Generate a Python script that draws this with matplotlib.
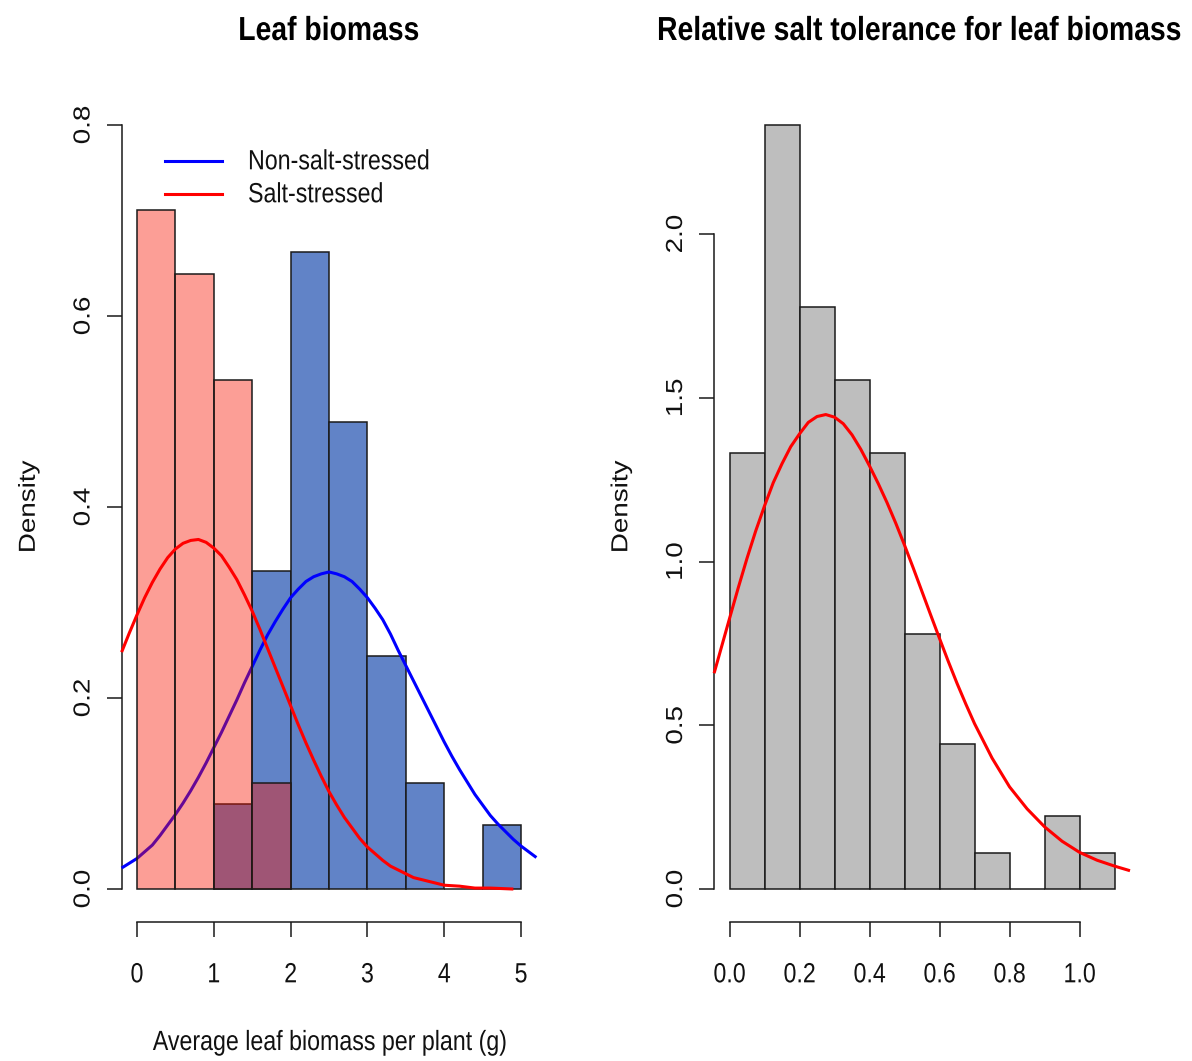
import matplotlib
matplotlib.use("Agg")
import matplotlib.pyplot as plt
from matplotlib.lines import Line2D
from matplotlib.patheffects import AbstractPathEffect
from matplotlib.transforms import Affine2D

# ---------------------------------------------------------------- data
# Leaf biomass, density-scaled histograms (bin width 0.5 g)
salt_bins = [0.0, 0.5, 1.0, 1.5, 2.0]
salt_density = [0.711, 0.644, 0.533, 0.111]

nonsalt_bins = [1.0, 1.5, 2.0, 2.5, 3.0, 3.5, 4.0, 4.5, 5.0]
nonsalt_density = [0.089, 0.333, 0.667, 0.489, 0.244, 0.111, 0.0, 0.067]

# Fitted density curves drawn over the leaf biomass histograms
salt_curve_x = [-0.2, -0.1, 0.0, 0.1, 0.2, 0.3, 0.4, 0.5, 0.6, 0.7, 0.8,
                0.9, 1.0, 1.1, 1.2, 1.3, 1.4, 1.5, 1.6, 1.7, 1.8, 1.9, 2.0,
                2.1, 2.2, 2.3, 2.4, 2.5, 2.6, 2.7, 2.8, 2.9, 3.0, 3.1, 3.2,
                3.3, 3.4, 3.5, 3.6, 3.8, 4.0, 4.2, 4.4, 4.6, 4.9]
salt_curve_y = [0.248, 0.268, 0.287, 0.305, 0.321, 0.335, 0.347, 0.356,
                0.362, 0.365, 0.366, 0.363, 0.357, 0.349, 0.337, 0.324,
                0.308, 0.291, 0.272, 0.252, 0.232, 0.212, 0.192, 0.172,
                0.153, 0.135, 0.118, 0.102, 0.088, 0.075, 0.064, 0.053,
                0.044, 0.037, 0.030, 0.024, 0.020, 0.016, 0.012, 0.008,
                0.004, 0.003, 0.001, 0.001, 0.000]

nonsalt_curve_x = [-0.2, -0.1, 0.0, 0.1, 0.2, 0.3, 0.4, 0.5, 0.6, 0.7, 0.8,
                   0.9, 1.0, 1.1, 1.2, 1.3, 1.4, 1.5, 1.6, 1.7, 1.8, 1.9,
                   2.0, 2.1, 2.2, 2.3, 2.4, 2.5, 2.6, 2.7, 2.8, 2.9, 3.0,
                   3.1, 3.2, 3.3, 3.4, 3.5, 3.6, 3.7, 3.8, 3.9, 4.0, 4.1,
                   4.2, 4.3, 4.4, 4.5, 4.6, 4.7, 4.8, 4.9, 5.0, 5.1, 5.2]
nonsalt_curve_y = [0.022, 0.027, 0.032, 0.039, 0.046, 0.056, 0.067, 0.078,
                   0.090, 0.103, 0.117, 0.132, 0.148, 0.164, 0.181, 0.198,
                   0.216, 0.233, 0.250, 0.266, 0.280, 0.293, 0.305, 0.314,
                   0.322, 0.327, 0.330, 0.332, 0.330, 0.327, 0.322, 0.314,
                   0.305, 0.294, 0.282, 0.267, 0.250, 0.234, 0.218, 0.202,
                   0.186, 0.170, 0.154, 0.139, 0.125, 0.112, 0.099, 0.088,
                   0.077, 0.068, 0.060, 0.052, 0.045, 0.039, 0.033]

# Relative salt tolerance, density-scaled histogram (bin width 0.1)
tol_bins = [0.0, 0.1, 0.2, 0.3, 0.4, 0.5, 0.6, 0.7, 0.8, 0.9, 1.0, 1.1]
tol_density = [1.333, 2.333, 1.778, 1.556, 1.333, 0.778, 0.444, 0.111,
               0.0, 0.222, 0.111]

tol_curve_x = [-0.044, 0.0, 0.025, 0.05, 0.075, 0.1, 0.125, 0.15, 0.175,
               0.2, 0.225, 0.25, 0.275, 0.3, 0.325, 0.35, 0.375, 0.4, 0.425,
               0.45, 0.475, 0.5, 0.525, 0.55, 0.575, 0.6, 0.625, 0.65,
               0.675, 0.7, 0.75, 0.8, 0.85, 0.9, 0.95, 1.0, 1.05, 1.1, 1.144]
tol_curve_y = [0.659, 0.826, 0.920, 1.010, 1.094, 1.170, 1.241, 1.299,
               1.351, 1.390, 1.425, 1.443, 1.449, 1.441, 1.421, 1.387,
               1.343, 1.292, 1.238, 1.180, 1.117, 1.050, 0.980, 0.908,
               0.836, 0.765, 0.695, 0.628, 0.565, 0.505, 0.400, 0.312,
               0.245, 0.190, 0.146, 0.112, 0.088, 0.070, 0.056]

left_xticks = [0, 1, 2, 3, 4, 5]
left_yticks = [0.0, 0.2, 0.4, 0.6, 0.8]
right_xticks = [0.0, 0.2, 0.4, 0.6, 0.8, 1.0]
right_yticks = [0.0, 0.5, 1.0, 1.5, 2.0]

legend_labels = ["Non-salt-stressed", "Salt-stressed"]

# ---------------------------------------------------------------- style
FONT = "Liberation Sans"
NARROW = 0.835                  # width / height ratio of the lettering
NARROW_TITLE = 0.85
FS = 20                         # nominal text size (pt)
FS_H = FS * NARROW              # horizontal text: narrow size, tall glyphs
FS_TITLE = 24 * NARROW_TITLE

W, H = 1192, 1061
fig = plt.figure(figsize=(W / 100, H / 100), dpi=100)
fig.patch.set_facecolor("white")

BLUE_FILL = "#6183C7"
SALT_FILL = (0.98, 0.08, 0.0, 0.41)
GRAY_FILL = "#BEBEBE"
EDGE = "#1a1a1a"
INK = "#111111"


class GlyphHeight(AbstractPathEffect):
    """Scale glyph heights about the baseline, leaving advance widths alone."""

    def __init__(self, sy):
        super().__init__()
        self.sy = sy

    def draw_path(self, renderer, gc, tpath, affine, rgbFace=None):
        renderer.draw_path(gc, tpath, Affine2D().scale(1, self.sy) + affine,
                           rgbFace)


TALL = [GlyphHeight(1 / NARROW)]
TALL_TITLE = [GlyphHeight(1 / NARROW_TITLE)]
FLAT = [GlyphHeight(NARROW)]


def px_axes(x0, x1, y_top, y_bot):
    return fig.add_axes([x0 / W, 1 - y_bot / H, (x1 - x0) / W, (y_bot - y_top) / H])


def style_axes(ax, xticks, yticks, xbounds, ybounds, xfmt, yfmt):
    for side in ("top", "right"):
        ax.spines[side].set_visible(False)
    ax.spines["left"].set_bounds(*ybounds)
    ax.spines["bottom"].set_bounds(*xbounds)
    ax.spines["bottom"].set_position(("outward", 2))
    for side in ("left", "bottom"):
        ax.spines[side].set_linewidth(1.1)
        ax.spines[side].set_color(EDGE)
    ax.set_xticks(xticks)
    ax.set_yticks(yticks)
    xl = ax.set_xticklabels([xfmt.format(v) for v in xticks],
                            fontfamily=FONT, fontsize=FS_H)
    yl = ax.set_yticklabels([yfmt.format(v) for v in yticks],
                            fontfamily=FONT, fontsize=FS, rotation=90,
                            va="center")
    for t in xl:
        t.set_path_effects(TALL)
    for t in yl:
        t.set_path_effects(FLAT)
    ax.tick_params(axis="both", direction="out", length=10.8, width=1.1,
                   color=EDGE, labelcolor=INK)
    ax.tick_params(axis="x", pad=19.4)
    ax.tick_params(axis="y", pad=8)
    ax.set_facecolor("none")


def hist_bars(ax, edges, dens, **kw):
    lefts = edges[:-1]
    widths = [b - a for a, b in zip(edges[:-1], edges[1:])]
    ax.bar(lefts, dens, width=widths, align="edge", edgecolor=EDGE,
           linewidth=1.1, **kw)


# ---------------------------------------------------------------- left panel
ax1 = px_axes(121.6, 536.4, 94.4, 919.6)
ax1.set_xlim(-0.2, 5.2)
ax1.set_ylim(-0.032, 0.832)

hist_bars(ax1, nonsalt_bins, nonsalt_density, color=BLUE_FILL, zorder=2)
ax1.plot(nonsalt_curve_x, nonsalt_curve_y, color="blue", lw=2.2, zorder=3,
         clip_on=False, solid_capstyle="butt")
hist_bars(ax1, salt_bins, salt_density, color=SALT_FILL, zorder=4)
ax1.plot(salt_curve_x, salt_curve_y, color="red", lw=2.2, zorder=5,
         clip_on=False, solid_capstyle="butt")

style_axes(ax1, left_xticks, left_yticks, (0, 5), (0, 0.8), "{:d}", "{:.1f}")

handles = [Line2D([], [], color="blue", lw=2.2),
           Line2D([], [], color="red", lw=2.2)]
leg = ax1.legend(handles, legend_labels, loc="upper left",
                 bbox_to_anchor=((165 - 121.6) / 414.8, (919.6 - 151.3) / 825.2),
                 frameon=False, handlelength=2.46, handletextpad=1.12,
                 borderpad=0, borderaxespad=0, labelspacing=0.43,
                 prop={"family": FONT, "size": FS_H})
for t in leg.get_texts():
    t.set_color(INK)
    t.set_path_effects(TALL)

fig.text(329 / W, 1 - 40 / H, "Leaf biomass", ha="center", va="baseline",
         fontfamily=FONT, fontsize=FS_TITLE, fontweight="bold",
         path_effects=TALL_TITLE)
fig.text(329 / W, 1 - 1050 / H, "Average leaf biomass per plant (g)",
         ha="center", va="baseline", fontfamily=FONT, fontsize=FS_H,
         color=INK, path_effects=TALL)
fig.text(27.8 / W, 1 - 507 / H, "Density", rotation=90, ha="center",
         va="center", fontfamily=FONT, fontsize=FS, color=INK,
         path_effects=FLAT)

# ---------------------------------------------------------------- right panel
ax2 = px_axes(714.1, 1130.0, 94.4, 919.6)
ax2.set_xlim(-0.044, 1.144)
ax2.set_ylim(-0.0933, 2.4267)

hist_bars(ax2, tol_bins, tol_density, color=GRAY_FILL, zorder=2)
ax2.plot(tol_curve_x, tol_curve_y, color="red", lw=2.2, zorder=5,
         clip_on=False, solid_capstyle="butt")

style_axes(ax2, right_xticks, right_yticks, (0, 1.0), (0, 2.0),
           "{:.1f}", "{:.1f}")

fig.text(920 / W, 1 - 40 / H, "Relative salt tolerance for leaf biomass",
         ha="center", va="baseline", fontfamily=FONT, fontsize=FS_TITLE,
         fontweight="bold", path_effects=TALL_TITLE)
fig.text(620.3 / W, 1 - 507 / H, "Density", rotation=90, ha="center",
         va="center", fontfamily=FONT, fontsize=FS, color=INK,
         path_effects=FLAT)

fig.savefig("out.png", dpi=100, facecolor="white")
